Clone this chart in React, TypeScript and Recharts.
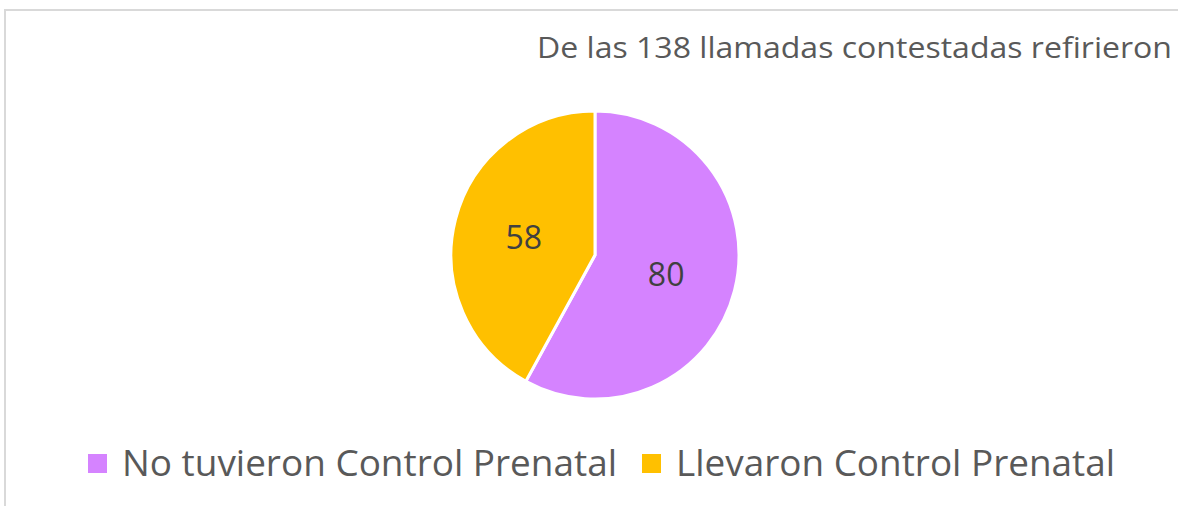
import React from "react";
import { PieChart, Pie, Cell } from "recharts";

const categories = ["No tuvieron Control Prenatal", "Llevaron Control Prenatal"];
const values = [80, 58];
const colors = ["#D583FF", "#FFC000"];
const title = "De las 138 llamadas contestadas refirieron";

const data = categories.map((name, i) => ({ name, value: values[i] }));

const FONT = "'Open Sans', sans-serif";
const RAD = Math.PI / 180;

const renderLabel = (props: any) => {
  const { cx, cy, midAngle, outerRadius, value } = props;
  const r = outerRadius * 0.51;
  const x = cx + r * Math.cos(-midAngle * RAD);
  const y = cy + r * Math.sin(-midAngle * RAD);
  return (
    <text
      x={x}
      y={y}
      fill="#404040"
      fontFamily={FONT}
      fontSize={32}
      textAnchor="middle"
      dominantBaseline="central"
    >
      {value}
    </text>
  );
};

const legendTextLengths = [495, 439];

function ChartLegend() {
  let x = 88;
  const items: React.ReactNode[] = [];
  categories.forEach((name, i) => {
    const tl = legendTextLengths[i] ?? 400;
    items.push(
      <g key={name}>
        <rect x={x} y={24} width={19} height={19} fill={colors[i]} />
        <text
          x={x + 34}
          y={46}
          fill="#595959"
          fontFamily={FONT}
          fontSize={37}
          textLength={tl}
          lengthAdjust="spacingAndGlyphs"
        >
          {name}
        </text>
      </g>
    );
    x += 19 + 15 + tl + 25;
  });
  return (
    <svg style={{ position: "absolute", left: 0, top: 430 }} width={1178} height={76}>
      {items}
    </svg>
  );
}

export default function App() {
  return (
    <div style={{ position: "absolute", left: 0, top: 0, width: 1178, height: 506, background: "#fff", overflow: "hidden" }}>
      <div
        style={{
          position: "absolute",
          left: 4,
          top: 9,
          width: 1180,
          height: 500,
          borderTop: "2px solid #D9D9D9",
          borderLeft: "2px solid #D9D9D9",
        }}
      />
      <svg style={{ position: "absolute", left: 0, top: 0 }} width={1178} height={80}>
        <text
          x={537}
          y={58}
          fill="#595959"
          fontFamily={FONT}
          fontSize={29}
          textLength={635}
          lengthAdjust="spacingAndGlyphs"
        >
          {title}
        </text>
      </svg>
      <div style={{ position: "absolute", left: 0, top: 0 }}>
        <PieChart width={1178} height={506} margin={{ top: 0, right: 0, bottom: 0, left: 0 }}>
          <Pie
            data={data}
            dataKey="value"
            nameKey="name"
            cx={595}
            cy={255}
            outerRadius={144}
            startAngle={90}
            endAngle={-270}
            stroke="#FFFFFF"
            strokeWidth={3}
            label={renderLabel}
            labelLine={false}
            isAnimationActive={false}
          >
            {data.map((d, i) => (
              <Cell key={d.name} fill={colors[i]} />
            ))}
          </Pie>
        </PieChart>
      </div>
      <ChartLegend />
    </div>
  );
}
